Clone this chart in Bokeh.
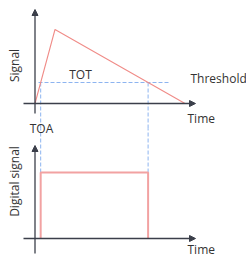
from bokeh.plotting import figure
from bokeh.models import Range1d, Arrow, NormalHead, Label
from bokeh.embed import file_html
from bokeh.resources import INLINE
import math

# ---- data (arbitrary units) ----
signal_t = [0, 20, 150]      # time points of analogue pulse
signal_v = [0, 74, 0]        # amplitude
threshold = 21
digital_low, digital_high = 0, 1

# threshold crossings (TOA and end of TOT)
t_rise = signal_t[0] + (signal_t[1] - signal_t[0]) * threshold / signal_v[1]
t_fall = signal_t[1] + (signal_t[2] - signal_t[1]) * (1 - threshold / signal_v[1])

digital_t = [t_rise, t_rise, t_fall, t_fall]
digital_v = [digital_low, digital_high, digital_high, digital_low]

AX = "#3b3f4a"
RED = "#f08c88"
RED2 = "#f2a2a2"
BLUE = "#8db4f0"
TXT = "#333333"
FONT = "Open Sans"
FS = "12px"

W, H = 246, 257
p = figure(width=W, height=H, output_backend="svg", toolbar_location=None,
           x_range=Range1d(-34.5, W - 34.5), y_range=Range1d(103 - H, 103),
           min_border=0)
p.axis.visible = False
p.grid.visible = False
p.outline_line_color = None
p.extra_y_ranges = {"digital": Range1d(-(H - 238) / 66, 238 / 66)}

# axes (arrows)
def arrow(x0, y0, x1, y1, rng="default"):
    p.add_layout(Arrow(end=NormalHead(size=6, fill_color=AX, line_color=AX, line_width=1),
                       x_start=x0, y_start=y0, x_end=x1, y_end=y1,
                       line_color=AX, line_width=1.3, y_range_name=rng))

arrow(0, -10, 0, 94)
arrow(-11.5, 0, 160.5, 0)
arrow(0, -15 / 66, 0, 93 / 66, "digital")
arrow(-11.5, 0, 160.5, 0, "digital")

# threshold line
p.line([3.5, 135.5], [threshold, threshold], line_color=BLUE, line_width=1, line_dash="4 2")
# vertical dashed markers
p.segment(x0=[t_rise, t_fall], y0=[threshold, threshold], x1=[t_rise, t_fall], y1=[-25, -25],
          line_color=BLUE, line_width=1, line_dash="4 2")
p.segment(x0=[t_rise, t_fall], y0=[digital_high] * 2, x1=[t_rise, t_fall], y1=[110 / 66] * 2,
          line_color=BLUE, line_width=1, line_dash="4 2", y_range_name="digital")

# analogue signal
p.line(signal_t, signal_v, line_color=RED, line_width=1.1)
# digital signal
p.line(digital_t, digital_v, line_color=RED2, line_width=2, y_range_name="digital")

def lab(x, y, text, align="left", angle=0, rng="default"):
    p.add_layout(Label(x=x, y=y, text=text, text_font=FONT, text_font_size=FS,
                       text_color=TXT, text_align=align, text_baseline="middle",
                       angle=angle, y_range_name=rng))

lab(-20.5, 38, "Signal", "center", math.pi / 2)
lab(-20.5, 57 / 66, "Digital signal", "center", math.pi / 2, "digital")
lab(155.5, 25.5, "Threshold")
lab(45.5, 29, "TOT", "center")
lab(152.5, -14.5, "Time")
lab(6.5, -25, "TOA", "center")
lab(152.5, -10.5 / 66, "Time", rng="digital")

open("out.html", "w").write(file_html(p, INLINE))
